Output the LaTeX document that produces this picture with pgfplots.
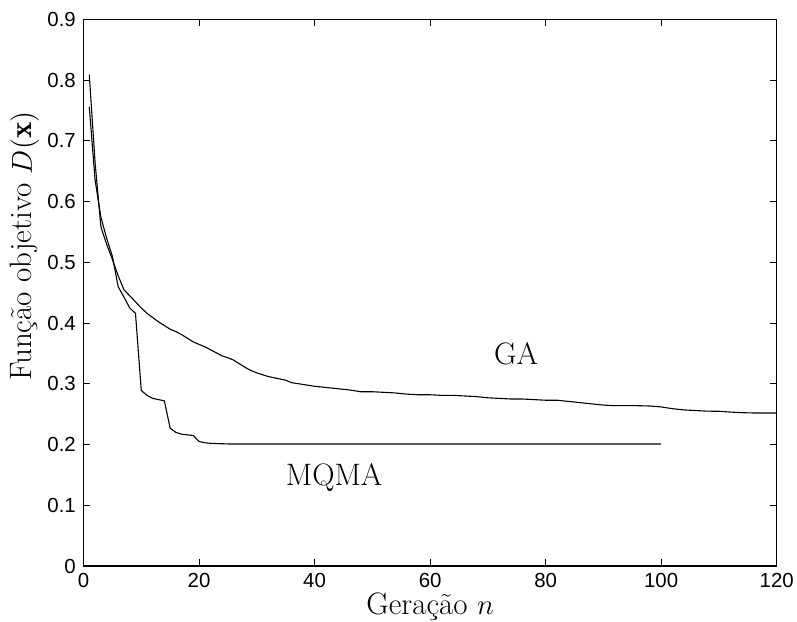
\documentclass[border=0pt]{standalone}
\usepackage{pgfplots}
\pgfplotsset{compat=1.18}
\usepackage{fontspec}
\newfontfamily\arial{Liberation Sans}
\begin{document}
\begin{tikzpicture}
\begin{axis}[
  scale only axis,
  width=346.6pt, height=273.25pt,
  xmin=0, xmax=120, ymin=0, ymax=0.9,
  xtick={0,20,40,60,80,100,120},
  xticklabels={0,20,40,60,80,100,120},
  ytick={0,0.1,0.2,0.3,0.4,0.5,0.6,0.7,0.8,0.9},
  yticklabels={0,0.1,0.2,0.3,0.4,0.5,0.6,0.7,0.8,0.9},
  tick align=inside,
  tick pos=both,
  major tick length=3.3pt,
  tick style={line width=0.5pt, black},
  axis line style={line width=0.6pt},
  ticklabel style={font=\arial\fontsize{10.2}{12}\selectfont},
  xticklabel style={yshift=-1.8pt, inner sep=1.5pt},
  yticklabel style={xshift=-0.3pt},
  xlabel={Geração $n$},
  ylabel={Função objetivo $D(\mathbf{x})$},
  label style={font=\fontsize{15.5}{18}\selectfont},
  xlabel style={at={(axis description cs:0.5,0)}, anchor=base, yshift=-24.2pt, inner sep=0pt},
  ylabel style={at={(axis description cs:-0.085,0.585)}, anchor=center},
]
\addplot[black, line width=0.55pt] coordinates {
(1,0.809)(2,0.665)(3,0.56)(3.2,0.553)(4,0.53)(5,0.505)(6,0.478)(7,0.455)
(8,0.445)(9,0.435)(10,0.425)(11,0.416)(12,0.409)(13,0.402)(14,0.396)(15,0.390)
(16,0.386)(17,0.381)(18,0.375)(19,0.369)(20,0.365)(21,0.361)(22,0.356)(23,0.351)
(24,0.346)(25,0.343)(26,0.339)(27,0.333)(28,0.327)(29,0.322)(30,0.318)(31,0.315)
(32,0.312)(33,0.310)(34,0.308)(35,0.306)(36,0.302)(38,0.299)(40,0.296)(42,0.294)
(44,0.292)(46,0.290)(48,0.287)(50,0.287)(52,0.286)(54,0.285)(56,0.283)(58,0.282)
(60,0.282)(62,0.281)(64,0.281)(66,0.280)(68,0.279)(70,0.277)(72,0.276)(74,0.275)
(76,0.275)(78,0.274)(80,0.273)(82,0.273)(84,0.271)(86,0.269)(88,0.267)(90,0.265)
(92,0.264)(94,0.264)(96,0.264)(98,0.2635)(100,0.262)(102,0.259)(104,0.257)(106,0.256)
(108,0.255)(110,0.2548)(112,0.2535)(114,0.2525)(116,0.252)(118,0.252)(120,0.252)
};
\addplot[black, line width=0.55pt] coordinates {
(1,0.756)(2,0.636)(3,0.575)(4,0.54)(5,0.51)(6,0.46)(7,0.443)(8,0.425)(9,0.416)
(10,0.289)(11,0.281)(12,0.276)(13,0.274)(14,0.272)(15,0.227)(16,0.220)(17,0.217)
(18,0.216)(19,0.215)(20,0.205)(21,0.203)(22,0.202)(25,0.201)(100,0.201)
};
\node[font=\fontsize{15.5}{18}\selectfont] at (axis cs:74.9,0.35) {GA};
\node[font=\fontsize{15.5}{18}\selectfont] at (axis cs:43.4,0.145) {MQMA};
\end{axis}
\pgfresetboundingbox
\path (-41.75pt,-27.5pt) rectangle (356.75pt,283pt);
\end{tikzpicture}
\end{document}
